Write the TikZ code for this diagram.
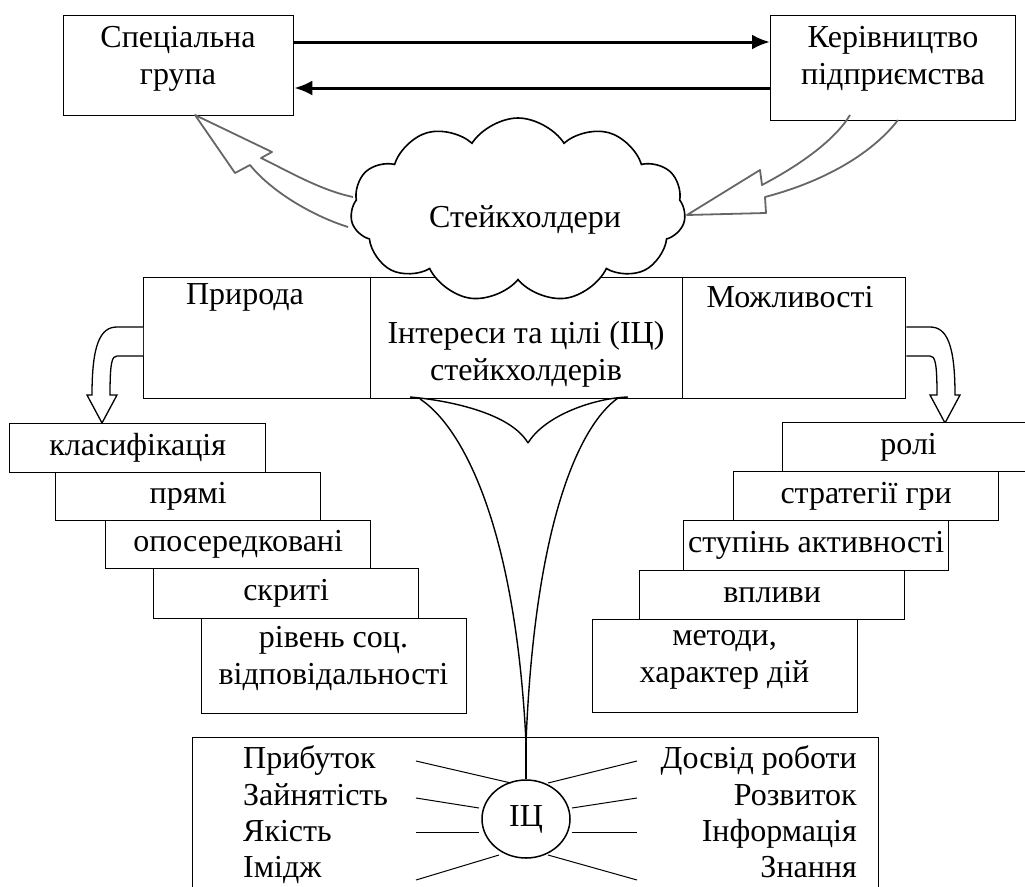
\documentclass[tikz,border=0pt]{standalone}
\usepackage{fontspec}
\setmainfont{Liberation Serif}
\usetikzlibrary{shapes.symbols,shapes.geometric,arrows.meta}
\begin{document}
\begin{tikzpicture}[x=1pt,y=-1pt,
  bx/.style={draw,line width=1.3pt,fill=white,inner sep=0pt,anchor=north west,align=center,font=\fontsize{32}{37}\selectfont},
  lbl/.style={inner sep=0pt,font=\fontsize{32}{37}\selectfont,align=center},
  hol/.style={draw=black!60,line width=1.8pt,line join=round},
  blk/.style={draw,line width=1.3pt,fill=white,line join=miter},
  con/.style={line width=1.4pt},
  ray/.style={line width=1pt},
  arr/.style={line width=3pt,-{Latex[length=18pt,width=15pt]}}
]
\useasboundingbox (0,0) rectangle (1025,886);
% top boxes
\node[bx,minimum width=230pt,minimum height=100pt] (A) at (63,15) {};
\node[lbl] (At) at (178,59) {Спеціальна\\група};
\node[bx,minimum width=245pt,minimum height=105pt] (B) at (770,15) {};
\node[lbl] (Bt) at (893,59) {Керівництво\\підприємства};
\coordinate (ya) at (0,42);
\coordinate (yb) at (0,88);
\draw[arr] (A.east |- ya) -- (B.west |- ya);
\draw[arr] (B.west |- yb) -- (A.east |- yb);
% middle row boxes
\node[bx,minimum width=227pt,minimum height=121pt] (P) at (143,277) {};
\node[lbl] (Pt) at (245,297) {Природа};
\node[bx,minimum width=312pt,minimum height=121pt] (M) at (370,277) {};
\node[lbl] (Mt) at (526,354) {Інтереси та цілі (ІЦ)\\стейкхолдерів};
\node[bx,minimum width=223pt,minimum height=121pt] (O) at (682,277) {};
\node[lbl] (Ot) at (790,297) {Можливості};
% hollow grey arrows
\draw[hol] (353,197) .. controls (320,190) and (290,172) .. (261,158) -- (272,152) -- (195,115) -- (235,173) -- (250,165) .. controls (270,190) and (310,215) .. (348,227);
\draw[hol] (850,115) .. controls (835,140) and (800,165) .. (762,185) -- (760,170) -- (687,215) -- (766,213) -- (765,197) .. controls (830,180) and (875,150) .. (898,120);
% cloud
\node[cloud,draw,line width=1.6pt,fill=white,cloud puffs=11,cloud puff arc=115,cloud ignores aspect,minimum width=335pt,minimum height=184pt,inner sep=0pt] (cl) at (518,210) {};
\node[lbl] (clt) at (525,220) {Стейкхолдери};
% down arrows
\draw[blk] (P.west |- 0,327) -- (117,327) .. controls (100,327) and (92,345) .. (92,395) -- (87,395) -- (102,423) -- (117,395) -- (110,395) .. controls (110,362) and (112,356) .. (117,356) -- (P.west |- 0,356);
\draw[blk] (O.east |- 0,327) -- (930,327) .. controls (947,327) and (955,345) .. (955,395) -- (960,395) -- (945,423) -- (930,395) -- (937,395) .. controls (937,362) and (935,356) .. (930,356) -- (O.east |- 0,356);
% left stairs
\node[bx,minimum width=256pt,minimum height=49pt] (L1) at (9,423) {класифікація};
\node[bx,minimum width=265pt,minimum height=48pt] (L2) at (55,472) {прямі};
\node[bx,minimum width=265pt,minimum height=48pt] (L3) at (105,520) {опосередковані};
\node[bx,minimum width=265pt,minimum height=50pt] (L4) at (153,568) {скриті};
\node[bx,minimum width=265pt,minimum height=95pt] (L5) at (201,618) {};
\node[lbl] (L5t) at (333.5,658.5) {рівень соц.\\відповідальності};
% right stairs
\node[bx,minimum width=252pt,minimum height=49pt] (R1) at (782,422) {ролі};
\node[bx,minimum width=265pt,minimum height=49pt] (R2) at (733,471) {стратегії гри};
\node[bx,minimum width=265pt,minimum height=50pt] (R3) at (683,520) {ступінь активності};
\node[bx,minimum width=265pt,minimum height=49pt] (R4) at (639,570) {впливи};
\node[bx,minimum width=265pt,minimum height=93pt] (R5) at (592,619) {};
\node[lbl] (R5t) at (724.5,660) {методи,\\характер дій};
% bottom box
\node[bx,minimum width=686pt,minimum height=200pt] (IB) at (192,737) {};
\node[draw,ellipse,line width=1.5pt,minimum width=88pt,minimum height=78pt,inner sep=0pt,font=\fontsize{32}{37}\selectfont] (IQ) at (526,819) {ІЦ};
% connecting curves
\coordinate (cusp) at (528,443);
\coordinate (jn) at (526,742);
\draw[con] (410,397) .. controls (445,400) and (510,412) .. (cusp);
\draw[con] (628,397) .. controls (595,398) and (545,415) .. (cusp);
\draw[con] (420,399) .. controls (460,425) and (515,520) .. (jn);
\draw[con] (618,398) .. controls (580,425) and (535,520) .. (jn);
\draw[con] (jn) -- (IQ.north);
% labels
\node[lbl,anchor=base west] (b1) at (243,768) {Прибуток};
\node[lbl,anchor=base west] (b2) at (243,805) {Зайнятість};
\node[lbl,anchor=base west] (b3) at (243,841) {Якість};
\node[lbl,anchor=base west] (b4) at (243,877) {Імідж};
\node[lbl,anchor=base east] (c1) at (857,768) {Досвід роботи};
\node[lbl,anchor=base east] (c2) at (857,805) {Розвиток};
\node[lbl,anchor=base east] (c3) at (857,841) {Інформація};
\node[lbl,anchor=base east] (c4) at (857,877) {Знання};
% rays
\draw[ray] (416,761) -- (511,783);
\draw[ray] (416,798) -- (479,808);
\draw[ray] (416,832) -- (479,832);
\draw[ray] (416,880) -- (499,855);
\draw[ray] (548,783) -- (637,761);
\draw[ray] (572,808) -- (637,798);
\draw[ray] (572,832) -- (637,832);
\draw[ray] (548,855) -- (637,880);
\end{tikzpicture}
\end{document}
